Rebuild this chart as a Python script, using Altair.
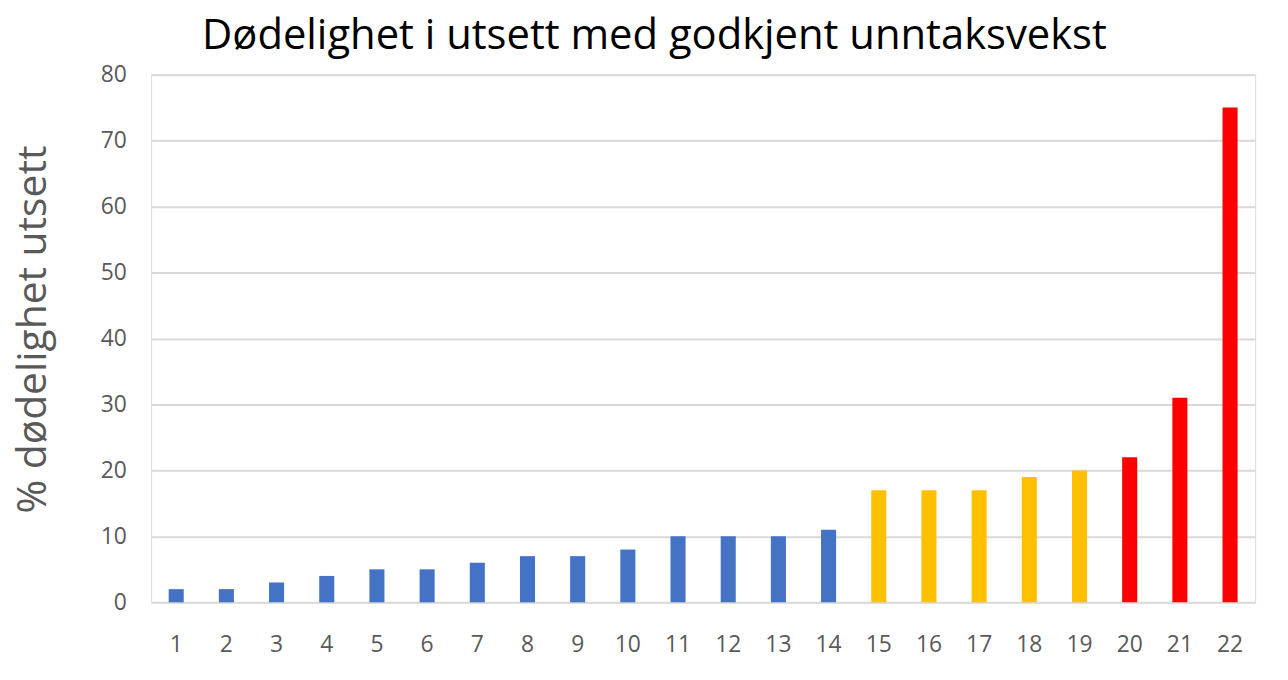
import altair as alt
import pandas as pd

categories = [str(i) for i in range(1, 23)]
values = [2, 2, 3, 4, 5, 5, 6, 7, 7, 8, 10, 10, 10, 11, 17, 17, 17, 19, 20, 22, 31, 75]
groups = ["low"] * 14 + ["mid"] * 5 + ["high"] * 3
group_names = ["low", "mid", "high"]
group_colors = ["#4472C4", "#FFC000", "#FF0000"]

df = pd.DataFrame({"cat": categories, "val": values, "grp": groups})

FONT = "Open Sans"

chart = (
    alt.Chart(df)
    .mark_bar()
    .encode(
        x=alt.X(
            "cat:N",
            sort=categories,
            scale=alt.Scale(paddingInner=0.7, paddingOuter=0.35),
            axis=alt.Axis(
                title=None,
                labelAngle=0,
                labelFontSize=23,
                labelColor="#595959",
                labelFont=FONT,
                labelPadding=31,
                ticks=False,
                domain=False,
                grid=False,
            ),
        ),
        y=alt.Y(
            "val:Q",
            scale=alt.Scale(domain=[0, 80]),
            axis=alt.Axis(
                title="% dødelighet utsett",
                titleFontSize=41,
                titleFont=FONT,
                titleFontWeight="normal",
                titleColor="#595959",
                titlePadding=46,
                titleY=256,
                titleAlign="center",
                values=list(range(0, 81, 10)),
                labelFontSize=23,
                labelColor="#595959",
                labelFont=FONT,
                labelPadding=25,
                ticks=False,
                domain=False,
                gridColor="#D9D9D9",
                gridWidth=2,
            ),
        ),
        color=alt.Color(
            "grp:N",
            scale=alt.Scale(domain=group_names, range=group_colors),
            legend=None,
        ),
    )
    .properties(
        width=1111,
        height=531,
        title=alt.TitleParams(
            "Dødelighet i utsett med godkjent unntaksvekst",
            fontSize=42,
            font=FONT,
            fontWeight="normal",
            color="#000000",
            anchor="middle",
            dx=-49,
            offset=6,
        ),
        autosize=alt.AutoSizeParams(type="none"),
        padding={"left": 144, "top": 65, "right": 25, "bottom": 60},
    )
    .configure_view(stroke=None)
    .configure(background="white")
)

chart.save("out.html", embed_options={"renderer": "svg", "actions": False})
